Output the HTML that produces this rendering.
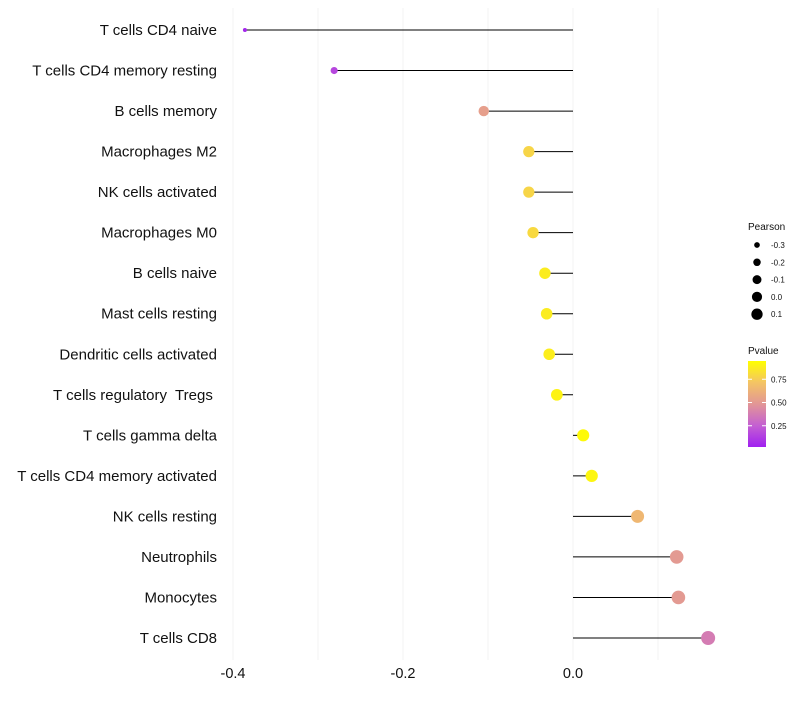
<!DOCTYPE html>
<html><head><meta charset="utf-8"><style>
body{margin:0;background:#fff;font-family:"Liberation Sans",sans-serif}
text{white-space:pre}
</style></head><body>
<svg id="c" width="800" height="700" xmlns="http://www.w3.org/2000/svg"></svg>
<script>
const categories=["T cells CD4 naive","T cells CD4 memory resting","B cells memory","Macrophages M2","NK cells activated","Macrophages M0","B cells naive","Mast cells resting","Dendritic cells activated","T cells regulatory  Tregs ","T cells gamma delta","T cells CD4 memory activated","NK cells resting","Neutrophils","Monocytes","T cells CD8"];
const pearson=[-0.386,-0.281,-0.105,-0.052,-0.052,-0.047,-0.033,-0.031,-0.028,-0.019,0.012,0.022,0.076,0.122,0.124,0.159];
const pvalue=[0.03,0.15,0.55,0.82,0.82,0.84,0.92,0.92,0.93,0.95,0.98,0.96,0.68,0.52,0.52,0.38];
const xTicks=[-0.4,-0.2,0.0];
const xTickLabels=["-0.4","-0.2","0.0"];
const minorTicks=[-0.3,-0.1,0.1];
const sizeLegend=[-0.3,-0.2,-0.1,0.0,0.1];
const colorLegend=[0.25,0.5,0.75];

const svg=document.getElementById('c');
const NS="http://www.w3.org/2000/svg";
function mk(t,a,p){const e=document.createElementNS(NS,t);for(const k in a)e.setAttribute(k,a[k]);(p||svg).appendChild(e);return e;}
const x=v=>573+v*850;
const y=i=>30+i*(608/15);
const r=v=>Math.sqrt(Math.max(1,35.9+82.6*v));
const stops=[[0,[160,32,240]],[0.25,[196,96,210]],[0.5,[226,150,150]],[0.75,[244,196,100]],[1,[255,255,0]]];
function col(p){for(let i=1;i<stops.length;i++){if(p<=stops[i][0]){const a=stops[i-1],b=stops[i],t=(p-a[0])/(b[0]-a[0]);return 'rgb('+a[1].map((c,j)=>Math.round(c+(b[1][j]-c)*t)).join(',')+')';}}return 'rgb(255,255,0)';}

[...xTicks,...minorTicks].forEach(v=>{const g=mk('line',{x1:x(v),x2:x(v),y1:8,y2:660,stroke:'#f3f3f3','stroke-width':1});

});
xTicks.forEach((v,i)=>{const t=mk('text',{x:x(v),y:678,'text-anchor':'middle','font-size':14.5,fill:'#111'});t.textContent=xTickLabels[i];

});
categories.forEach((c,i)=>{
const t=mk('text',{x:217,y:y(i)+5,'text-anchor':'end','font-size':15,fill:'#111'});t.textContent=c;


const l=mk('line',{x1:x(0),x2:x(pearson[i]),y1:y(i),y2:y(i),stroke:'#000','stroke-width':1});


const d=mk('circle',{cx:x(pearson[i]),cy:y(i),r:r(pearson[i]),fill:col(pvalue[i])});


});
const t1=mk('text',{x:748,y:230,'font-size':10,fill:'#111'});t1.textContent='Pearson';


sizeLegend.forEach((v,i)=>{const cy=245+i*17.3;
const d=mk('circle',{cx:757,cy:cy,r:r(v)*0.85,fill:'#000'});


const t=mk('text',{x:771,y:cy+3,'font-size':8,fill:'#111'});t.textContent=v.toFixed(1);

});
const t2=mk('text',{x:748,y:354,'font-size':10,fill:'#111'});t2.textContent='Pvalue';


const defs=mk('defs',{});const lg=mk('linearGradient',{id:'g',x1:0,y1:1,x2:0,y2:0},defs);
stops.forEach(s=>mk('stop',{offset:s[0],'stop-color':col(s[0])},lg));
const bar=mk('rect',{x:748,y:361,width:18,height:86,fill:'url(#g)'});


const cy=p=>449-p*93;
colorLegend.forEach(p=>{mk('line',{x1:748,x2:752,y1:cy(p),y2:cy(p),stroke:'#fff'});mk('line',{x1:762,x2:766,y1:cy(p),y2:cy(p),stroke:'#fff'});
const t=mk('text',{x:771,y:cy(p)+3,'font-size':8,fill:'#111'});t.textContent=p.toFixed(2);

});
</script>
</body></html>
